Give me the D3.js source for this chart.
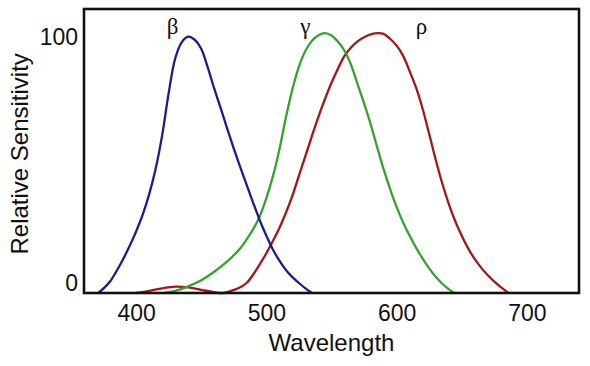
<!DOCTYPE html>
<html>
<head>
<meta charset="utf-8">
<script src="https://cdn.jsdelivr.net/npm/d3@7"></script>
<style>
  body { margin: 0; background: #fff; }
</style>
</head>
<body>
<div id="vis-container"></div>
<script>
// data
const blueWl = [371, 375, 380, 385, 390, 395, 400, 405, 410, 415, 420, 425, 430, 435, 440, 445, 450, 455, 460, 465, 470, 475, 480, 485, 490, 495, 500, 505, 510, 515, 520, 525, 530, 535];
const blueVal = [0, 1.8, 4.5, 8.6, 13.2, 18.3, 24, 30.5, 38.5, 48.5, 61.5, 78, 91.5, 97.8, 100, 98.8, 95.3, 88, 79.7, 72, 64, 56.3, 49, 42, 35, 28.3, 22.3, 17, 12.6, 9, 6.2, 3.9, 1.8, 0];

const greenWl = [422, 430, 440, 450, 460, 470, 480, 485, 490, 495, 500, 505, 510, 515, 520, 525, 530, 535, 540, 545, 550, 555, 560, 565, 570, 575, 580, 585, 590, 595, 600, 605, 610, 615, 620, 625, 630, 635, 640, 644];
const greenVal = [0, 0.8, 2.6, 5, 8.3, 12.3, 17.5, 21, 25, 30, 37, 45.5, 56, 68.5, 79.5, 88.3, 94.5, 98.4, 100.6, 101.4, 100.5, 98, 94.5, 89, 81.5, 74, 66, 57, 48.3, 40.5, 33.5, 27.5, 22.3, 17.6, 13.4, 9.6, 6.3, 3.6, 1.5, 0];

const redWl = [400, 410, 420, 430, 440, 450, 460, 467, 475, 480, 485, 490, 495, 500, 505, 510, 515, 520, 525, 530, 535, 540, 545, 550, 555, 560, 565, 570, 575, 580, 586, 590, 595, 600, 605, 610, 615, 620, 625, 630, 635, 640, 645, 650, 655, 660, 665, 670, 675, 680, 686];
const redVal = [0, 0.8, 1.8, 2.5, 2.2, 1.2, 0.3, 0, 1.2, 2.2, 4, 7.3, 11.3, 15.5, 20.3, 25.4, 31.3, 38, 45.8, 53.5, 61.3, 68.8, 75.7, 82, 87.6, 92.5, 95.8, 98.2, 99.8, 100.9, 101.4, 101.1, 99.2, 96.5, 92.5, 86.5, 80, 71.8, 62, 52, 42.8, 34.8, 28, 22.3, 17.3, 13.2, 9.8, 6.9, 4.4, 2.3, 0];

const seriesNames = ["ρ", "γ", "β"];
const seriesColors = ["#a3161a", "#34a32c", "#1b1c8e"];
const labelWl = [619, 530, 428];
const labelVal = [101.2, 101.2, 101.2];

const xTicks = [400, 500, 600, 700];
const yTicks = [0, 100];

const width = 590;
const height = 366;
const margin = { top: 9, right: 10, bottom: 73, left: 84 };

const svg = d3.select("#vis-container")
    .append("svg")
    .attr("width", width)
    .attr("height", height)
    .attr("viewBox", [0, 0, width, height]);

// scales
const x = d3.scaleLinear()
    .domain([360, 740])
    .range([margin.left, width - margin.right - 1]);

const y = d3.scaleLinear()
    .domain([0, 110.8])
    .range([height - margin.bottom, margin.top]);

// x axis (labels only, no ticks)
svg.append("g")
    .attr("transform", `translate(0,${height - margin.bottom})`)
    .call(d3.axisBottom(x).tickValues(xTicks).tickSize(0).tickPadding(12))
    .call(g => g.select(".domain").remove())
    .attr("font-family", "'Liberation Sans', Arial, sans-serif")
    .attr("font-size", "23px")
    .selectAll("text").attr("fill", "#111");

// y axis
svg.append("g")
    .attr("transform", `translate(${margin.left},0)`)
    .call(d3.axisLeft(y).tickValues(yTicks).tickSize(0).tickPadding(6))
    .call(g => g.select(".domain").remove())
    .attr("font-family", "'Liberation Sans', Arial, sans-serif")
    .attr("font-size", "23px")
    .selectAll("text")
    .attr("fill", "#111")
    .attr("dy", d => d === 0 ? "-0.1em" : "0.32em");

// axis titles
svg.append("text")
    .attr("x", (x(400) + x(700)) / 2)
    .attr("y", 351)
    .attr("text-anchor", "middle")
    .attr("font-family", "'Liberation Sans', Arial, sans-serif")
    .attr("font-size", "24px")
    .attr("fill", "#111")
    .text("Wavelength");

svg.append("text")
    .attr("transform", `translate(28,${(y(0) + y(100)) / 2 - 11}) rotate(-90)`)
    .attr("text-anchor", "middle")
    .attr("font-family", "'Liberation Sans', Arial, sans-serif")
    .attr("font-size", "24px")
    .attr("fill", "#111")
    .text("Relative Sensitivity");

// curves
const series = [
    { wl: redWl, val: redVal },
    { wl: greenWl, val: greenVal },
    { wl: blueWl, val: blueVal }
];

const line = d3.line()
    .x(d => x(d[0]))
    .y(d => y(Math.max(0, d[1])))
    .curve(d3.curveCatmullRom.alpha(0.5));

svg.selectAll("path.curve")
    .data(series)
    .enter()
    .append("path")
    .attr("class", "curve")
    .attr("d", s => line(d3.zip(s.wl, s.val)))
    .attr("fill", "none")
    .attr("stroke", (s, i) => seriesColors[i])
    .attr("stroke-width", 2.3);

// greek labels
svg.selectAll("text.greek")
    .data(seriesNames)
    .enter()
    .append("text")
    .attr("class", "greek")
    .attr("x", (d, i) => x(labelWl[i]))
    .attr("y", (d, i) => y(labelVal[i]))
    .attr("text-anchor", "middle")
    .attr("font-family", "'Liberation Serif', 'Times New Roman', serif")
    .attr("font-size", "23px")
    .attr("fill", "#111")
    .text(d => d);

// frame
svg.append("rect")
    .attr("x", x.range()[0])
    .attr("y", y.range()[1])
    .attr("width", x.range()[1] - x.range()[0])
    .attr("height", y.range()[0] - y.range()[1])
    .attr("fill", "none")
    .attr("stroke", "#111")
    .attr("stroke-width", 2.6);
</script>
</body>
</html>
